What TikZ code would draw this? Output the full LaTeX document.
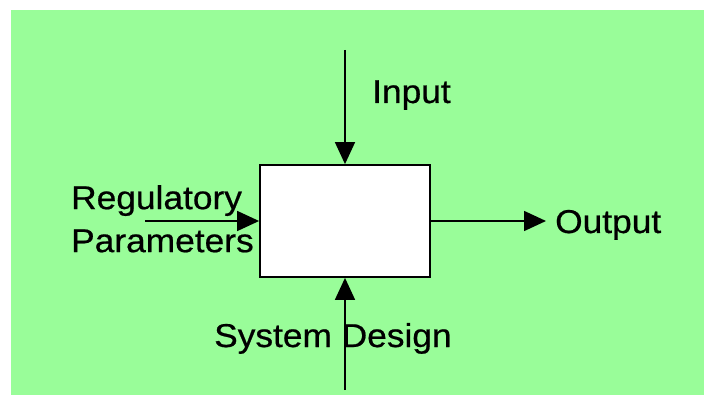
\documentclass[tikz,border=0pt]{standalone}
\usepackage{fontspec}
\setmainfont{Liberation Sans}[FakeStretch=1.07,FakeBold=0.6]
\usetikzlibrary{arrows.meta}
\definecolor{bggreen}{RGB}{153,253,153}
\begin{document}
\begin{tikzpicture}[x=1pt,y=-1pt,
  lbl/.style={inner sep=0pt,anchor=base west,font=\fontsize{33}{43}\selectfont},
  flow/.style={line width=1.6pt,-{Triangle[length=22pt,width=20pt]}},
  procbox/.style={draw,line width=1.8pt,fill=white,minimum width=170pt,minimum height=112pt,inner sep=0pt}]
\useasboundingbox (0,0) rectangle (704,395);
\fill[white] (0,0) rectangle (704,395);
\fill[bggreen] (11,10) rectangle (704,395);
\node[procbox] (box) at (345,221) {};
\coordinate (intop) at (345,50);
\coordinate (sdbot) at (345,390);
\coordinate (regstart) at (145,221);
\coordinate (outend) at (546,221);
\draw[flow] (intop) -- (box.north);
\draw[flow] (sdbot) -- (box.south);
\draw[flow] (regstart) -- (box.west);
\draw[flow] (box.east) -- (outend);
\node[lbl] (input) at (372,103) {Input};
\node[lbl] (output) at (555,233) {Output};
\node[lbl] (sysdes) at (214,347) {System Design};
\node[lbl,align=left,anchor=north west] (reg) at (71,185) {Regulatory\\Parameters};
\end{tikzpicture}
\end{document}
